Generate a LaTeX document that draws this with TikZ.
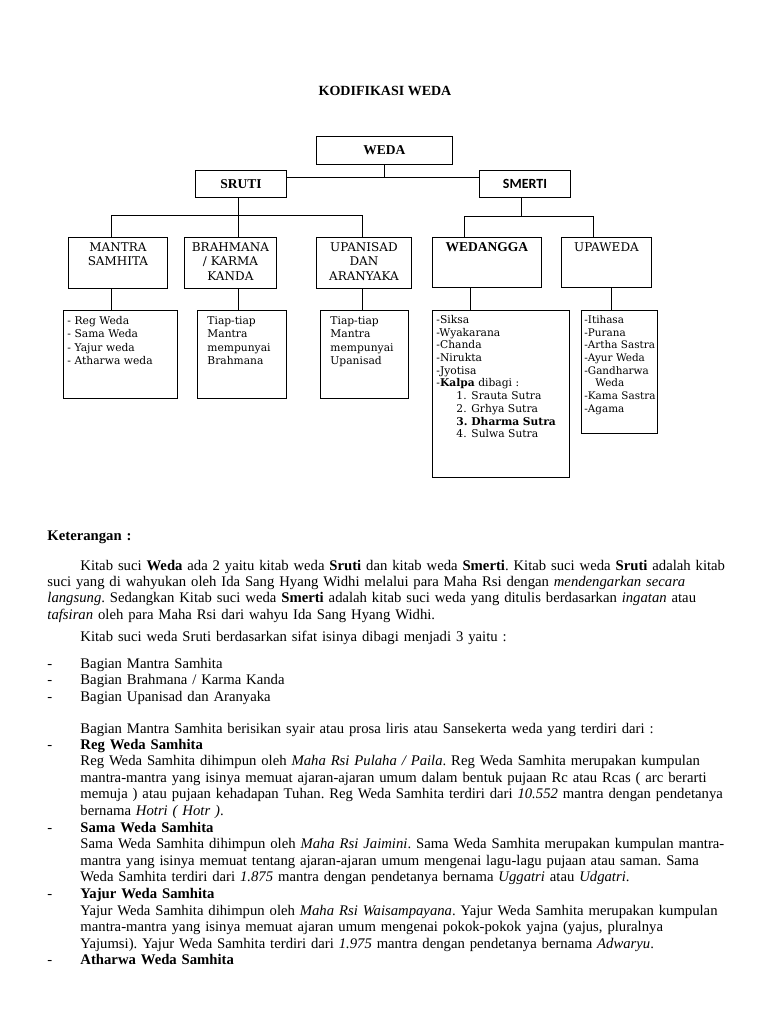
\documentclass[tikz,border=0pt]{standalone}
\usepackage{fontspec}
\setmainfont{Liberation Serif}
\newfontfamily\chartfont{DejaVu Serif}
\newfontfamily\calfont{Carlito}
\frenchspacing

% one justified line of the explanation, full width or indented
\newcommand{\fullline}[1]{\makebox[680pt][s]{#1}}
\newcommand{\indline}[1]{\hspace*{33pt}\makebox[647pt][s]{#1}}
\newcommand{\dashitem}[1]{\makebox[33pt][l]{-}#1}
\newcommand{\kalpaitem}[2]{\hspace*{20pt}\makebox[15pt][l]{#1}#2}

\begin{document}
\begin{tikzpicture}[
    x=1pt, y=-1pt,
    line width=0.9pt,
    head/.style={draw, anchor=north west, inner sep=0pt,
                 font=\bfseries\fontsize{13.5}{15}\selectfont},
    grp/.style 2 args={draw, anchor=north west, inner xsep=2pt, inner ysep=0pt,
                 text width=#1, text height=14pt, text depth=#2, align=center,
                 font=\chartfont\fontsize{12}{14.5}\selectfont},
    lst/.style 2 args={draw, anchor=north west, inner xsep=4pt, inner ysep=0pt,
                 text width=#1, text height=14pt, text depth=#2, align=left,
                 font=\chartfont\fontsize{10.7}{13.3}\selectfont},
    expl/.style={anchor=base west, inner sep=0pt, text width=680pt, align=left,
                 font=\fontsize{14.7}{16.4}\selectfont}
  ]
  \useasboundingbox (0,0) rectangle (768,1024);
  \fill[white] (0,0) rectangle (768,1024);

  \node[font=\bfseries\fontsize{14}{16}\selectfont] (title) at (385,91) {KODIFIKASI WEDA};

  % top of the chart
  \node[head, minimum width=136pt, minimum height=28pt] (weda) at (316,136) {WEDA};
  \node[head, minimum width=91pt, minimum height=27pt] (sruti) at (195,170) {SRUTI};
  \node[head, minimum width=91pt, minimum height=27pt,
        font=\calfont\bfseries\fontsize{14}{16}\selectfont] (smerti) at (479,170) {SMERTI};

  % second level
  \node[grp={95pt}{37pt}] (mantra) at (68,237) {MANTRA\\SAMHITA};
  \node[grp={88pt}{37pt}] (brahmana) at (184,237) {BRAHMANA\\/ KARMA\\KANDA};
  \node[grp={91pt}{37pt}] (upanisad) at (316,237) {UPANISAD\\DAN\\ARANYAKA};
  \node[grp={105pt}{36pt}, font=\bfseries\fontsize{13.5}{15}\selectfont] (wedangga) at (432,237) {WEDANGGA};
  \node[grp={86pt}{36pt}] (upaweda) at (561,237) {UPAWEDA};

  % contents of each part
  \node[lst={106pt}{74pt}] (samhita) at (63,310)
    {- Reg Weda\\- Sama Weda\\- Yajur weda\\- Atharwa weda};
  \node[lst={69pt}{74pt}, inner xsep=10pt] (tiapbrahmana) at (197,310)
    {Tiap-tiap\\Mantra\\mempunyai\\Brahmana};
  \node[lst={68pt}{74pt}, inner xsep=10pt] (tiapupanisad) at (320,310)
    {Tiap-tiap\\Mantra\\mempunyai\\Upanisad};
  \node[lst={129pt}{154pt}, text height=13pt,
        font=\chartfont\fontsize{10.7}{12.7}\selectfont] (wedlist) at (432,310)
    {-Siksa\\-Wyakarana\\-Chanda\\-Nirukta\\-Jyotisa\\-\textbf{Kalpa} dibagi :\\
     \kalpaitem{1.}{Srauta Sutra}\\
     \kalpaitem{2.}{Grhya Sutra}\\
     \kalpaitem{\textbf{3.}}{\textbf{Dharma Sutra}}\\
     \kalpaitem{4.}{Sulwa Sutra}};
  \node[lst={70pt}{110pt}, inner xsep=3pt, text height=13pt,
        font=\chartfont\fontsize{10.4}{12.7}\selectfont] (upalist) at (581,310)
    {-Itihasa\\-Purana\\\mbox{-Artha Sastra}\\\mbox{-Ayur Weda}\\-Gandharwa\\\hspace*{11pt}Weda\\\mbox{-Kama Sastra}\\-Agama};

  % connectors
  \coordinate (tbar) at (0,177);
  \coordinate (sbar) at (0,215);
  \coordinate (mbar) at (0,216);
  \coordinate (c1) at (111,0);
  \coordinate (c2) at (238,0);
  \coordinate (c3) at (362,0);
  \coordinate (c4) at (464,0);
  \coordinate (c5) at (593,0);
  \coordinate (c6) at (521,0);
  \coordinate (c7) at (470,0);
  \coordinate (c8) at (611,0);

  \draw (weda.south) -- (weda.south |- tbar);
  \draw (sruti.east |- tbar) -- (smerti.west |- tbar);
  \draw (sruti.south -| c2) -- (brahmana.north -| c2);
  \draw (mantra.north -| c1) -- (c1 |- sbar) -- (c3 |- sbar) -- (upanisad.north -| c3);
  \draw (smerti.south -| c6) -- (c6 |- mbar);
  \draw (wedangga.north -| c4) -- (c4 |- mbar) -- (c5 |- mbar) -- (upaweda.north -| c5);
  \draw (mantra.south -| c1) -- (samhita.north -| c1);
  \draw (brahmana.south -| c2) -- (tiapbrahmana.north -| c2);
  \draw (upanisad.south -| c3) -- (tiapupanisad.north -| c3);
  \draw (wedangga.south -| c7) -- (wedlist.north -| c7);
  \draw (upaweda.south -| c8) -- (upalist.north -| c8);

  % explanation below the chart
  \node[expl, font=\bfseries\fontsize{14.7}{16.4}\selectfont] (ket) at (47,540) {Keterangan :};
  \node[expl] (para1) at (47,570)
    {\indline{Kitab suci \textbf{Weda} ada 2 yaitu kitab weda \textbf{Sruti} dan kitab weda \textbf{Smerti}. Kitab suci weda \textbf{Sruti} adalah kitab}\\
     \fullline{suci yang di wahyukan oleh Ida Sang Hyang Widhi melalui para Maha Rsi dengan \textit{mendengarkan secara}}\\
     \fullline{\textit{langsung}. Sedangkan Kitab suci weda \textbf{Smerti} adalah kitab suci weda yang ditulis berdasarkan \textit{ingatan} atau}\\
     \textit{tafsiran} oleh para Maha Rsi dari wahyu Ida Sang Hyang Widhi.};
  \node[expl] (para2) at (47,641)
    {\hspace*{33pt}Kitab suci weda Sruti berdasarkan sifat isinya dibagi menjadi 3 yaitu :};
  \node[expl, font=\fontsize{14.7}{16.6}\selectfont] (parts) at (47,668)
    {\dashitem{Bagian Mantra Samhita}\\
     \dashitem{Bagian Brahmana / Karma Kanda}\\
     \dashitem{Bagian Upanisad dan Aranyaka}};
  \node[expl] (para3) at (47,733)
    {\hspace*{33pt}Bagian Mantra Samhita berisikan syair atau prosa liris atau Sansekerta weda yang terdiri dari :};
  \node[expl, font=\fontsize{14.7}{16.6}\selectfont] (samhitas) at (47,749)
    {\dashitem{\textbf{Reg Weda Samhita}}\\
     \indline{Reg Weda Samhita dihimpun oleh \textit{Maha Rsi Pulaha / Paila}. Reg Weda Samhita merupakan kumpulan}\\
     \indline{mantra-mantra yang isinya memuat ajaran-ajaran umum dalam bentuk pujaan Rc atau Rcas ( arc berarti}\\
     \indline{memuja ) atau pujaan kehadapan Tuhan. Reg Weda Samhita terdiri dari \textit{10.552} mantra dengan pendetanya}\\
     \hspace*{33pt}bernama \textit{Hotri ( Hotr )}.\\
     \dashitem{\textbf{Sama Weda Samhita}}\\
     \indline{Sama Weda Samhita dihimpun oleh \textit{Maha Rsi Jaimini}. Sama Weda Samhita merupakan kumpulan mantra-}\\
     \indline{mantra yang isinya memuat tentang ajaran-ajaran umum mengenai lagu-lagu pujaan atau saman. Sama}\\
     \hspace*{33pt}Weda Samhita terdiri dari \textit{1.875} mantra dengan pendetanya bernama \textit{Uggatri} atau \textit{Udgatri}.\\
     \dashitem{\textbf{Yajur Weda Samhita}}\\
     \indline{Yajur Weda Samhita dihimpun oleh \textit{Maha Rsi Waisampayana}. Yajur Weda Samhita merupakan kumpulan}\\
     \indline{mantra-mantra yang isinya memuat ajaran umum mengenai pokok-pokok yajna (yajus, pluralnya}\\
     \hspace*{33pt}Yajumsi). Yajur Weda Samhita terdiri dari \textit{1.975} mantra dengan pendetanya bernama \textit{Adwaryu}.\\
     \dashitem{\textbf{Atharwa Weda Samhita}}};
\end{tikzpicture}
\end{document}
